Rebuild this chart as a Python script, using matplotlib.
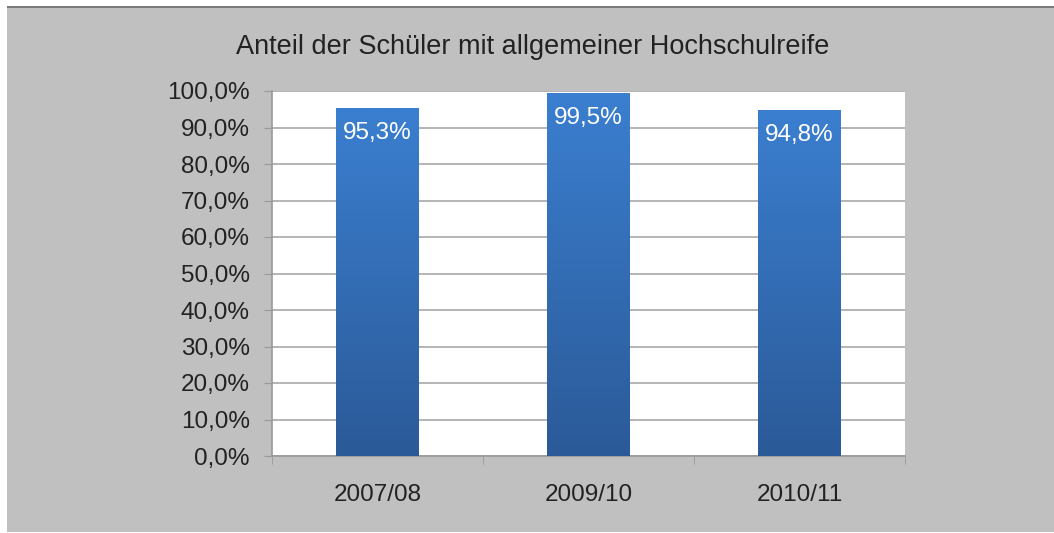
import matplotlib
matplotlib.use("Agg")
import matplotlib.pyplot as plt
import numpy as np
from matplotlib.patches import Rectangle

categories = ["2007/08", "2009/10", "2010/11"]
values = [95.3, 99.5, 94.8]
labels = ["95,3%", "99,5%", "94,8%"]
yticks = [0, 10, 20, 30, 40, 50, 60, 70, 80, 90, 100]
ytick_labels = ["0,0%", "10,0%", "20,0%", "30,0%", "40,0%", "50,0%",
                "60,0%", "70,0%", "80,0%", "90,0%", "100,0%"]
title = "Anteil der Schüler mit allgemeiner Hochschulreife"

plt.rcParams['font.family'] = ['Liberation Sans', 'DejaVu Sans']

W, H = 1054, 533
fig = plt.figure(figsize=(W / 100, H / 100), dpi=100, facecolor="white")

# gray background panel
fig.patches.append(Rectangle((7 / W, 1 / H), 1 - 7 / W, (H - 8 - 1) / H,
                             transform=fig.transFigure, facecolor="#c0c0c0",
                             edgecolor="none", zorder=-10))
fig.patches.append(Rectangle((7 / W, (H - 8) / H), 1 - 7 / W, 2 / H,
                             transform=fig.transFigure, facecolor="#7a7a7a",
                             edgecolor="none", zorder=-9))

left, right, top, bottom = 272, 905, 91, 456
ax = fig.add_axes([left / W, 1 - bottom / H, (right - left) / W, (bottom - top) / H])
ax.set_facecolor("white")

x = np.arange(len(categories))
bars = ax.bar(x, values, width=0.39, color="none", edgecolor="none", zorder=3)

top_c = np.array([59, 127, 208]) / 255
bot_c = np.array([43, 90, 152]) / 255
grad = np.linspace(0, 1, 256)[:, None]
img = bot_c[None, None, :] * (1 - grad[..., None]) + top_c[None, None, :] * grad[..., None]
for b in bars:
    x0, w, h = b.get_x(), b.get_width(), b.get_height()
    im = ax.imshow(img, extent=[x0, x0 + w, 0, h], origin="lower",
                   aspect="auto", zorder=3, interpolation="bilinear")
    im.set_clip_path(b)

for xi, v, lab in zip(x, values, labels):
    ax.annotate(lab, (xi, v), xytext=(0, -25), textcoords="offset pixels",
                ha="center", va="center", color="white", fontsize=17.5, zorder=5)

ax.set_xlim(-0.5, len(categories) - 0.5)
ax.set_ylim(0, 100)
ax.set_yticks(yticks)
ax.set_yticklabels(ytick_labels, fontsize=17.5, color="#222222")
ax.set_xticks(x)
ax.set_xticklabels(categories, fontsize=17.5, color="#222222")
ax.tick_params(axis="x", length=0, pad=20)
ax.set_xticks([-0.5, 0.5, 1.5, 2.5], minor=True)
ax.tick_params(axis="x", which="minor", length=6, color="#999999", direction="out")
ax.tick_params(axis="y", length=6, color="#999999", pad=10, direction="out")

ax.yaxis.grid(True, color="#a8a8a8", linewidth=1.2, zorder=1)
ax.set_axisbelow(True)
for s in ["top", "right"]:
    ax.spines[s].set_visible(False)
ax.spines["left"].set_color("#999999")
ax.spines["bottom"].set_color("#999999")
ax.spines["left"].set_linewidth(1.2)
ax.spines["bottom"].set_linewidth(1.2)

fig.text(533 / W, 1 - 47 / H, title, ha="center", va="center", fontsize=19.5, color="#222222")

fig.savefig("out.png", dpi=100, facecolor=fig.get_facecolor())
